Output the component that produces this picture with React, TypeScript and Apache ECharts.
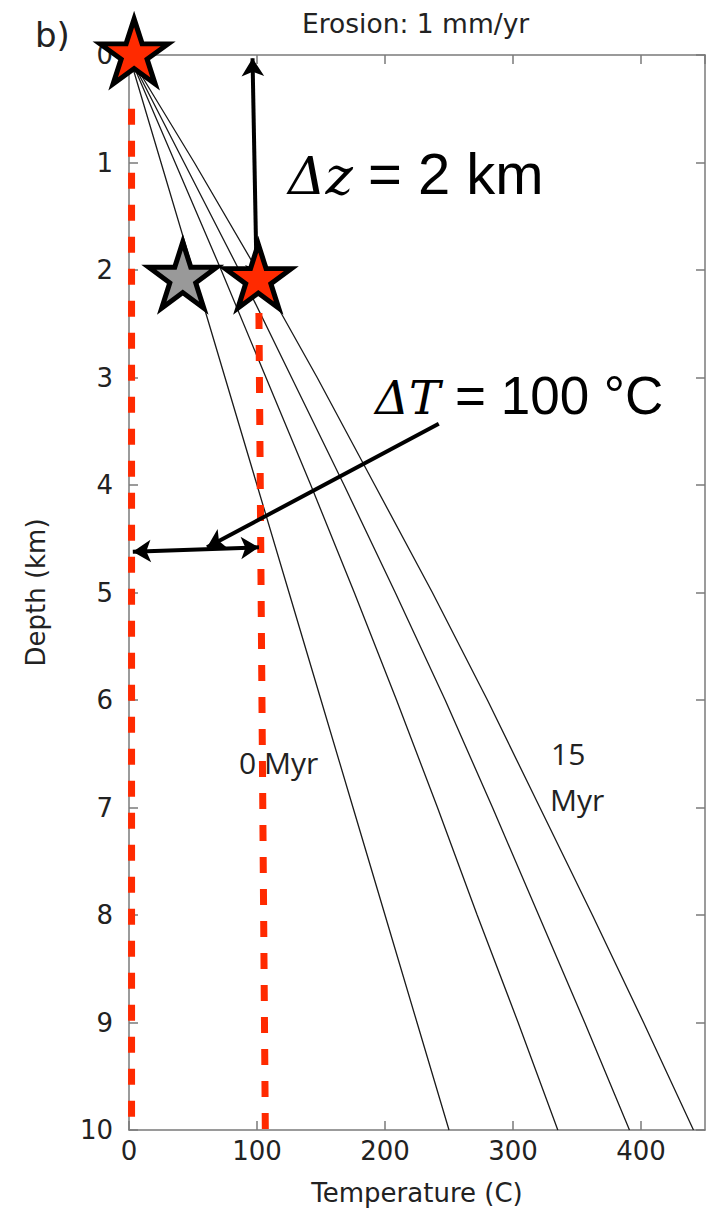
import React, { useEffect, useRef } from "react";
import * as echarts from "echarts";

// ---- data ----
const depthKm = [0, 1, 2, 3, 4, 5, 6, 7, 8, 9, 10];
const geotherm0Myr = [0, 25, 50, 75, 100, 125, 150, 175, 200, 225, 250];
const geotherm5Myr = [0, 36, 72, 107, 142, 176, 209, 241, 272, 304, 335];
const geotherm10Myr = [0, 43, 86, 127, 168, 208, 247, 284, 320, 356, 391];
const geotherm15Myr = [0, 51, 100, 147, 192, 237, 280, 321, 362, 402, 441];
const geotherms = [geotherm0Myr, geotherm5Myr, geotherm10Myr, geotherm15Myr];

const surfaceStar = [4, 0];
const grayStar = [42, 2.08];
const redStar = [101, 2.09];

const dashedSurface = [[2, 0.5], [2, 9.95]];
const dashedSample = [[101.5, 2.4], [106.5, 10]];

const dzArrow = [[99.8, 2.12], [96.5, 0.03]];
const dtArrow = [[3, 4.62], [101.5, 4.58]];
const dtPointer = [[242, 3.43], [61, 4.58]];

const RED = "#ff2a00";
const AXIS = "#7a7a7a";
const SANS = "DejaVu Sans";
const STAR =
  "path://M0 -100 L22.45 -30.9 L95.11 -30.9 L36.33 11.8 L58.78 80.9 L0 38.2 L-58.78 80.9 L-36.33 11.8 L-95.11 -30.9 L-22.45 -30.9 Z";

export default function App() {
  const ref = useRef<HTMLDivElement>(null);

  useEffect(() => {
    if (!ref.current) return;
    const chart = echarts.init(ref.current, null, { renderer: "svg" });

    const tickCommon = {
      inside: true,
      length: 9,
      lineStyle: { color: AXIS, width: 1.5 },
    };
    const lineCommon = { show: true, onZero: false, lineStyle: { color: AXIS, width: 1.5 } };

    const geoSeries = geotherms.map((g, k) => ({
      type: "line",
      name: "g" + k,
      xAxisIndex: 0,
      yAxisIndex: 0,
      data: g.map((t, i) => [t, depthKm[i]]),
      symbol: "none",
      lineStyle: { color: "#1a1a1a", width: 1.3 },
      z: 3,
      silent: true,
    }));

    const option = {
      animation: false,
      grid: { left: 129, right: 15, top: 55, bottom: 81, containLabel: false },
      xAxis: [
        {
          type: "value",
          position: "bottom",
          min: 0,
          max: 450,
          interval: 100,
          axisLine: lineCommon,
          axisTick: tickCommon,
          splitLine: { show: false },
          axisLabel: {
            fontSize: 26,
            fontFamily: SANS,
            color: "#222",
            margin: 8,
            showMaxLabel: false,
          },
          name: "Temperature (C)",
          nameLocation: "middle",
          nameGap: 50,
          nameTextStyle: { fontSize: 26, fontFamily: SANS, color: "#222" },
        },
        {
          type: "value",
          position: "top",
          min: 0,
          max: 450,
          interval: 100,
          axisLine: lineCommon,
          axisTick: tickCommon,
          splitLine: { show: false },
          axisLabel: { show: false },
        },
      ],
      yAxis: [
        {
          type: "value",
          position: "left",
          inverse: true,
          min: 0,
          max: 10,
          interval: 1,
          axisLine: lineCommon,
          axisTick: tickCommon,
          splitLine: { show: false },
          axisLabel: { fontSize: 26, fontFamily: SANS, color: "#222", margin: 16 },
          name: "Depth (km)",
          nameLocation: "middle",
          nameGap: 80,
          nameTextStyle: { fontSize: 26, fontFamily: SANS, color: "#222" },
        },
        {
          type: "value",
          position: "right",
          inverse: true,
          min: 0,
          max: 10,
          interval: 1,
          axisLine: lineCommon,
          axisTick: tickCommon,
          splitLine: { show: false },
          axisLabel: { show: false },
        },
      ],
      series: [
        ...geoSeries,
        {
          type: "line",
          xAxisIndex: 0,
          yAxisIndex: 0,
          data: dashedSurface,
          symbol: "none",
          lineStyle: { color: RED, width: 7, type: [16, 16], cap: "butt" },
          z: 4,
          silent: true,
          markLine: {
            silent: true,
            animation: false,
            symbol: ["arrow", "arrow"],
            symbolSize: [17, 18],
            label: { show: false },
            emphasis: { disabled: true },
            lineStyle: { color: "#000", width: 4, type: "solid" },
            data: [
              [{ coord: dzArrow[0] }, { coord: dzArrow[1] }],
              [{ coord: dtArrow[0] }, { coord: dtArrow[1] }],
              [{ coord: dtPointer[0], symbol: "none" }, { coord: dtPointer[1] }],
            ],
          },
        },
        {
          type: "line",
          xAxisIndex: 0,
          yAxisIndex: 0,
          data: dashedSample,
          symbol: "none",
          lineStyle: { color: RED, width: 7, type: [16, 16], cap: "butt" },
          z: 4,
          silent: true,
        },
        {
          type: "scatter",
          xAxisIndex: 0,
          yAxisIndex: 0,
          clip: false,
          symbol: STAR,
          symbolOffset: [0, -3.5],
          z: 10,
          silent: true,
          itemStyle: { borderColor: "#000", borderWidth: 5, opacity: 1 },
          data: [
            { value: surfaceStar, symbolSize: [68, 65], itemStyle: { color: RED } },
            { value: grayStar, symbolSize: [68, 66], itemStyle: { color: "#999999" } },
            { value: redStar, symbolSize: [66, 64], itemStyle: { color: RED } },
          ],
        },
      ],
      graphic: [
        {
          type: "text",
          x: 35,
          y: 35,
          style: { text: "b)", font: `34px '${SANS}'`, fill: "#222", verticalAlign: "middle" },
        },
        {
          type: "text",
          x: 302,
          y: 23,
          style: {
            text: "Erosion: 1 mm/yr",
            font: `26.5px '${SANS}'`,
            fill: "#222",
            verticalAlign: "middle",
          },
        },
        {
          type: "text",
          x: 288,
          y: 176,
          z: 20,
          style: {
            text: "Δz",
            font: "italic 52px 'DejaVu Serif'",
            fill: "#000",
            verticalAlign: "middle",
          },
        },
        {
          type: "text",
          x: 368,
          y: 173,
          z: 20,
          style: {
            text: "= 2 km",
            font: "58px 'Liberation Sans'",
            fill: "#000",
            verticalAlign: "middle",
          },
        },
        {
          type: "text",
          x: 375,
          y: 397,
          z: 20,
          style: {
            text: "ΔT",
            font: "italic 47px 'DejaVu Serif'",
            fill: "#000",
            verticalAlign: "middle",
          },
        },
        {
          type: "text",
          x: 455,
          y: 395,
          z: 20,
          style: {
            text: "= 100 °C",
            font: "53px 'Liberation Sans'",
            fill: "#000",
            verticalAlign: "middle",
          },
        },
        {
          type: "text",
          x: 239,
          y: 762,
          z: 20,
          style: {
            text: "0 Myr",
            font: "30px 'Open Sans'",
            fill: "#222",
            verticalAlign: "middle",
          },
        },
        {
          type: "text",
          x: 551,
          y: 753,
          z: 20,
          style: { text: "15", font: "30px 'Open Sans'", fill: "#222", verticalAlign: "middle" },
        },
        {
          type: "text",
          x: 550,
          y: 799,
          z: 20,
          style: { text: "Myr", font: "30px 'Open Sans'", fill: "#222", verticalAlign: "middle" },
        },
      ],
    };

    chart.setOption(option as any);
    return () => chart.dispose();
  }, []);

  return (
    <div
      ref={ref}
      style={{ position: "absolute", left: 0, top: 0, width: 720, height: 1211, background: "#fff" }}
    />
  );
}
